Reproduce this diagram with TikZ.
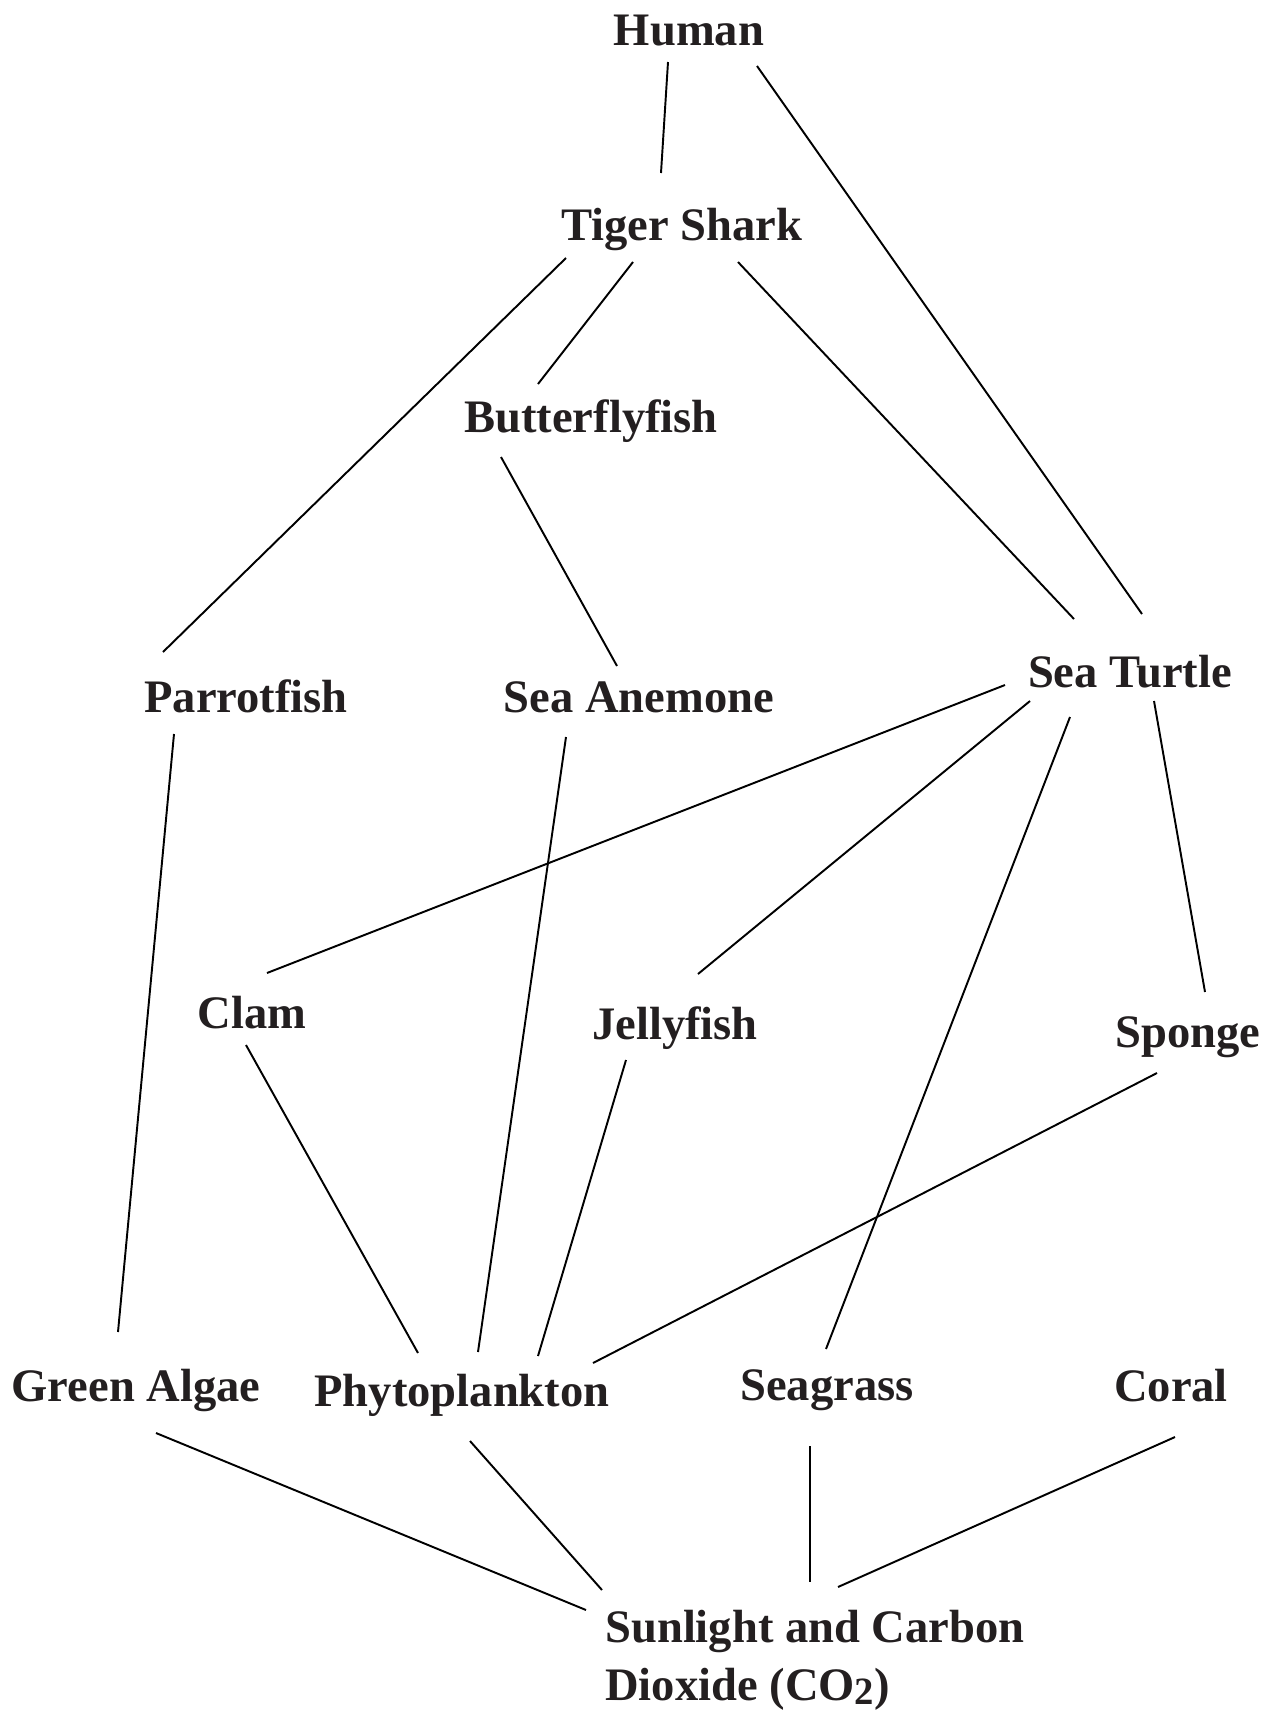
\documentclass[tikz,border=0pt]{standalone}
\usepackage{fontspec}
\setmainfont{Liberation Serif}
\usepackage{tikz}
\usetikzlibrary{positioning,calc}
\definecolor{webink}{RGB}{35,31,32}

\begin{document}
\begin{tikzpicture}[x=0.02cm, y=-0.02cm,
		species/.style={inner sep=0pt, anchor=base, text=webink, font=\fontsize{26.5}{33}\selectfont\bfseries},
		feeds/.style={line width=1.1pt, black}]
		% page frame
		\useasboundingbox (0,0) rectangle (1269,1714);
		
		% top of the web
		\node[species] (human) at (689,45) {Human};
		\node[species] (shark) at (682,240) {Tiger Shark};
		\node[species] (butterfly) at (591,432) {Butterflyfish};
		
		% middle levels
		\node[species] (parrot) at (246,712) {Parrotfish};
		\node[species] (anemone) at (639,712) {Sea Anemone};
		\node[species] (turtle) at (1130,687) {Sea Turtle};
		\node[species] (clam) at (252,1028) {Clam};
		\node[species] (jelly) at (675,1039) {Jellyfish};
		\node[species] (sponge) at (1188,1047) {Sponge};
		
		% producers
		\node[species] (algae) at (136,1401) {Green Algae};
		\node[species] (phyto) at (462,1406) {Phytoplankton};
		\node[species] (seagrass) at (827,1400) {Seagrass};
		\node[species] (coral) at (1171,1401) {Coral};
		\node[species, anchor=north west, align=left] (sun) at (605,1610) {Sunlight and Carbon\\Dioxide (CO{\fontsize{22}{22}\selectfont\raisebox{-0.2ex}{2}})};
		
		% who eats whom
		\draw[feeds] ([shift={(-21,17)}]human.base) -- ([shift={(-21,-67)}]shark.base);
		\draw[feeds] ([shift={(68,21)}]human.base) -- ([shift={(12,-73)}]turtle.base);
		\draw[feeds] ([shift={(-116,18)}]shark.base) -- ([shift={(-83,-60)}]parrot.base);
		\draw[feeds] ([shift={(-49,22)}]shark.base) -- ([shift={(-53,-48)}]butterfly.base);
		\draw[feeds] ([shift={(56,22)}]shark.base) -- ([shift={(-56,-68)}]turtle.base);
		\draw[feeds] ([shift={(-90,25)}]butterfly.base) -- ([shift={(-22,-46)}]anemone.base);
		\draw[feeds] ([shift={(-72,22)}]parrot.base) -- ([shift={(-18,-69)}]algae.base);
		\draw[feeds] ([shift={(-73,25)}]anemone.base) -- ([shift={(16,-54)}]phyto.base);
		\draw[feeds] ([shift={(-125,-2)}]turtle.base) -- ([shift={(15,-55)}]clam.base);
		\draw[feeds] ([shift={(-100,14)}]turtle.base) -- ([shift={(23,-65)}]jelly.base);
		\draw[feeds] ([shift={(-60,30)}]turtle.base) -- ([shift={(-1,-51)}]seagrass.base);
		\draw[feeds] ([shift={(24,14)}]turtle.base) -- ([shift={(17,-55)}]sponge.base);
		\draw[feeds] ([shift={(-6,17)}]clam.base) -- ([shift={(-44,-53)}]phyto.base);
		\draw[feeds] ([shift={(-49,21)}]jelly.base) -- ([shift={(76,-50)}]phyto.base);
		\draw[feeds] ([shift={(-31,26)}]sponge.base) -- ([shift={(131,-43)}]phyto.base);
		
		% producers need sunlight
		\draw[feeds] ([shift={(20,32)}]algae.base) -- ([shift={(-19,0)}]sun.north west);
		\draw[feeds] ([shift={(8,35)}]phyto.base) -- ([shift={(-3,-20)}]sun.north west);
		\draw[feeds] ([shift={(-17,46)}]seagrass.base) -- ([shift={(205,-28)}]sun.north west);
		\draw[feeds] ([shift={(4,36)}]coral.base) -- ([shift={(233,-23)}]sun.north west);
	\end{tikzpicture}
\end{document}
